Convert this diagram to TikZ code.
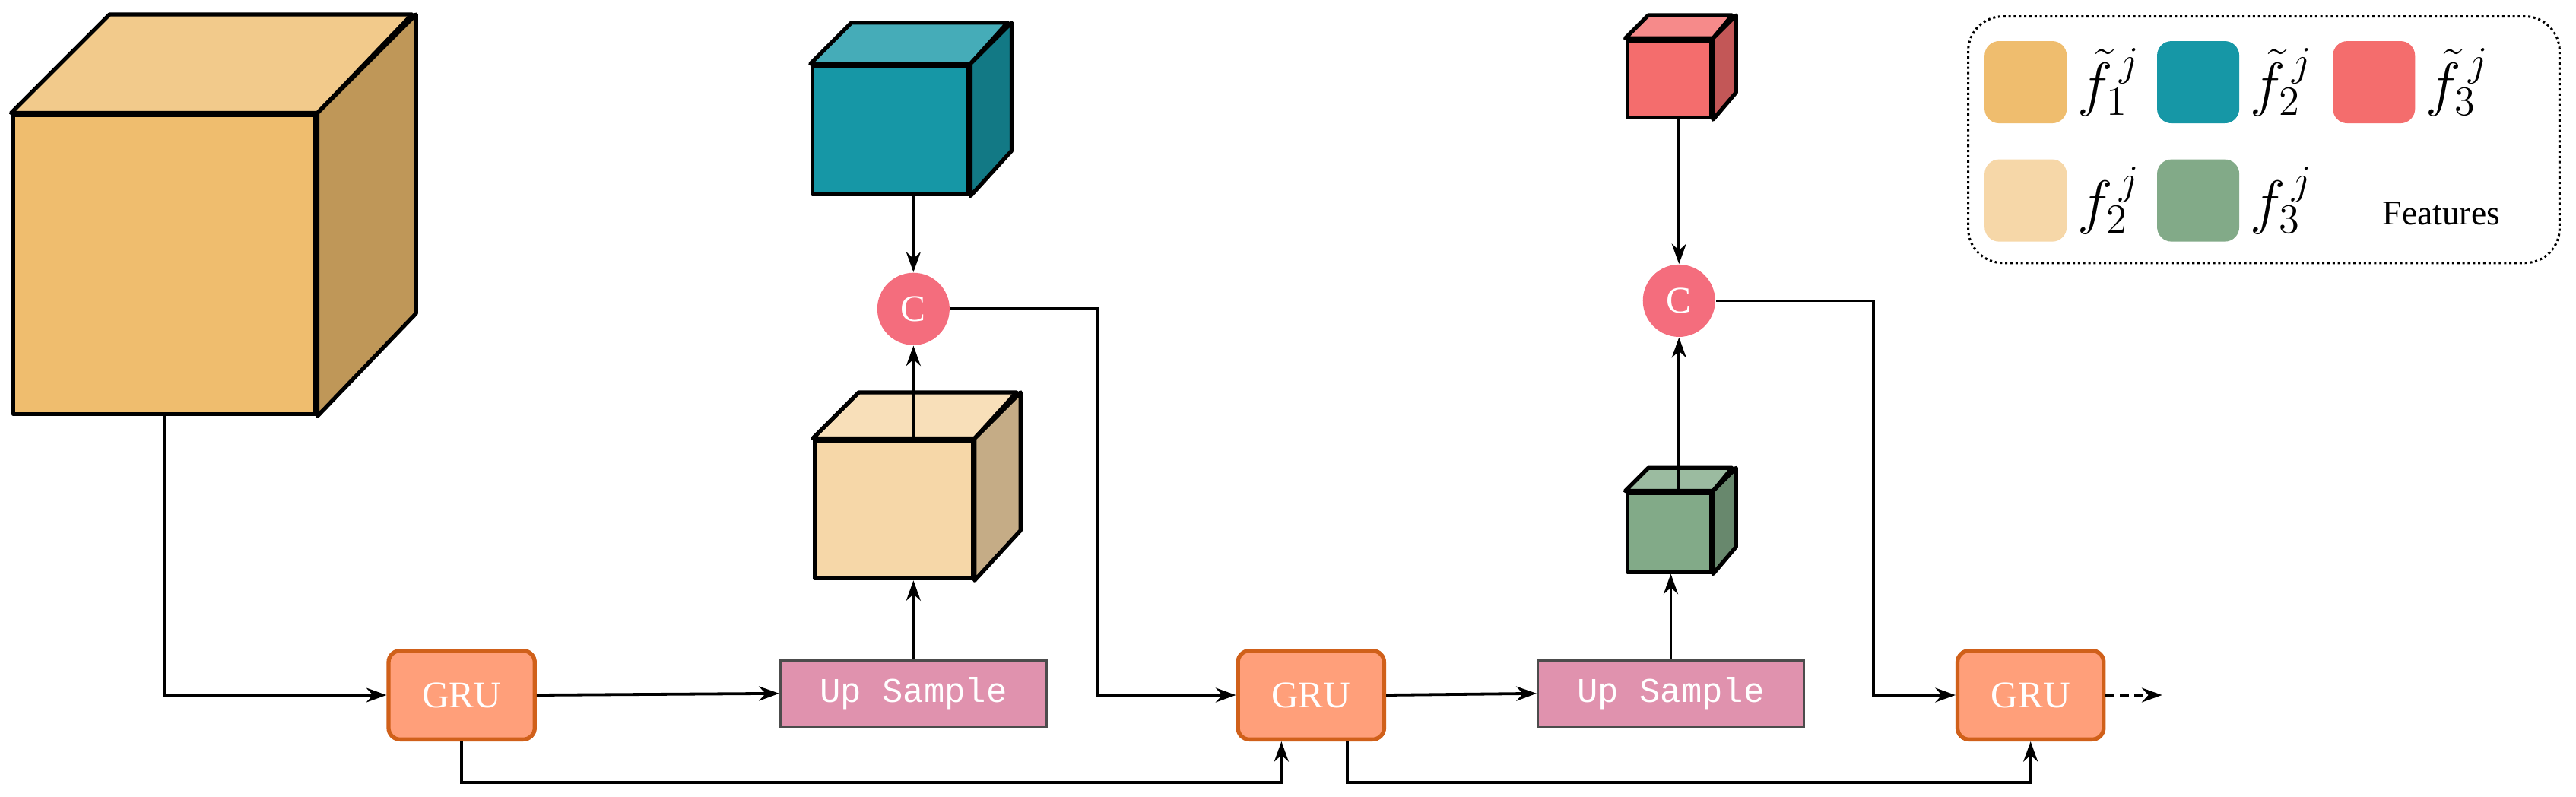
\documentclass[tikz,border=0pt]{standalone}
\usepackage{fontspec}
\setmainfont{Liberation Serif}
\newfontfamily\monofont{Liberation Mono}
\usetikzlibrary{arrows.meta,positioning}
\definecolor{cOrange}{HTML}{EFBD6E}
\definecolor{cTeal}{HTML}{1697A6}
\definecolor{cRed}{HTML}{F46D6D}
\definecolor{cLight}{HTML}{F6D7A8}
\definecolor{cGreen}{HTML}{82AA88}
\definecolor{cPink}{HTML}{E092AE}
\definecolor{cGru}{HTML}{FF9F7A}
\definecolor{cGruEdge}{HTML}{D0601A}
\definecolor{cCirc}{HTML}{F46D7D}
\tikzset{
  face/.style={draw=black, line width=1.4pt, line join=round},
  gru/.style={draw=cGruEdge, line width=1.4pt, fill=cGru, rounded corners=4pt,
    minimum width=17.8mm, minimum height=10.8mm, text=white, font=\fontsize{13}{15}\selectfont},
  upsample/.style={draw=black!70, line width=0.8pt, fill=cPink, minimum width=32.4mm,
    minimum height=8mm, text=white, font=\monofont\fontsize{12}{14}\selectfont},
  concat/.style={circle, fill=cCirc, minimum size=8.8mm, inner sep=0pt, text=white,
    font=\fontsize{13}{15}\selectfont},
  swatch/.style={rounded corners=5pt, minimum size=10mm, inner sep=0pt},
  flow/.style={-{Stealth[length=7pt,width=5pt]}, line width=1pt},
}
% cube: name, centre of front face, width, height, depth, colour
\newcommand{\boxcube}[6]{%
  \node[face, fill=#6, minimum width=#3mm, minimum height=#4mm, inner sep=0pt] (#1) at #2 {};
  \draw[face, fill=#6!80!white] (#1.north west) -- ++(#5mm,#5mm) -- ++(#3mm,0) -- (#1.north east) -- cycle;
  \draw[face, fill=#6!80!black] (#1.north east) -- ++(#5mm,#5mm) -- ++(0,-#4mm) -- (#1.south east) -- cycle;
}
\begin{document}
\begin{tikzpicture}[x=0.2mm,y=-0.2mm]
\useasboundingbox (0,0) rectangle (1568,485);

% cubes
\boxcube{big}{(100,161)}{36.8}{36.4}{12}{cOrange}
\boxcube{teal}{(542,79)}{19}{15.6}{5}{cTeal}
\boxcube{light}{(544,310)}{19.2}{16.8}{5.6}{cLight}
\boxcube{red}{(1016,48)}{10.2}{9.4}{2.8}{cRed}
\boxcube{green}{(1016,324)}{10.2}{9.6}{2.8}{cGreen}

% blocks
\node[gru] (gru1) at (281,423) {GRU};
\node[gru] (gru2) at (798,423) {GRU};
\node[gru] (gru3) at (1236,423) {GRU};
\node[upsample] (up1) at (556,422) {Up Sample};
\node[upsample] (up2) at (1017,422) {Up Sample};
\node[concat] (c1) at (556,188) {C};
\node[concat] (c2) at (1022,183) {C};
\coordinate (out) at (1316,423);

% connectors
\draw[flow] (big.south) |- (gru1.west);
\draw[flow] (gru1.east) -- (up1.west);
\draw[flow] (up1.north) -- (light.south -| up1.north);
\draw[flow] (light.north -| c1) -- (c1.south);
\draw[flow] (teal.south -| c1) -- (c1.north);
\draw[flow] (c1.east) -- ++(90,0) |- (gru2.west);
\draw[flow] (gru1.south) -- ++(0,25) -| (gru2.south -| 780,0);
\draw[flow] (gru2.east) -- (up2.west);
\draw[flow] (up2.north) -- (green.south -| up2.north);
\draw[flow] (green.north -| c2) -- (c2.south);
\draw[flow] (red.south -| c2) -- (c2.north);
\draw[flow] (c2.east) -- ++(96,0) |- (gru3.west);
\draw[flow] (gru2.south -| 820,0) -- ++(0,25) -| (gru3.south);
\draw[flow, densely dashed] (gru3.east) -- (out);

% legend
\draw[densely dotted, line width=0.8pt, rounded corners=12pt] (1198,10) rectangle (1558,160);
\node[swatch, fill=cOrange] (s1) at (1233,50) {};
\node[swatch, fill=cTeal] (s2) at (1338,50) {};
\node[swatch, fill=cRed] (s3) at (1445,50) {};
\node[swatch, fill=cLight] (s4) at (1233,122) {};
\node[swatch, fill=cGreen] (s5) at (1338,122) {};
\node[right=0pt of s1, font=\fontsize{20}{22}\selectfont] {$\tilde{f}_1^{\,j}$};
\node[right=0pt of s2, font=\fontsize{20}{22}\selectfont] {$\tilde{f}_2^{\,j}$};
\node[right=0pt of s3, font=\fontsize{20}{22}\selectfont] {$\tilde{f}_3^{\,j}$};
\node[right=0pt of s4, font=\fontsize{20}{22}\selectfont] {$f_2^{\,j}$};
\node[right=0pt of s5, font=\fontsize{20}{22}\selectfont] {$f_3^{\,j}$};
\node[font=\fontsize{12}{14}\selectfont] at (1486,130) {Features};
\end{tikzpicture}
\end{document}
